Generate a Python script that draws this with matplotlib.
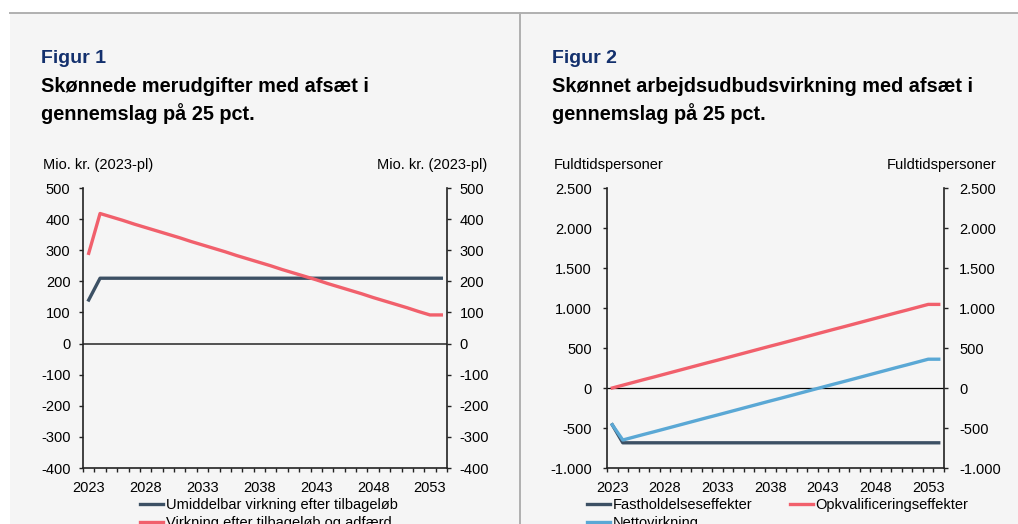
import matplotlib
matplotlib.use("Agg")
import matplotlib.pyplot as plt
from matplotlib.lines import Line2D
from matplotlib.patches import Rectangle
from matplotlib.ticker import FixedLocator, FuncFormatter

plt.rcParams["font.family"] = ["Liberation Sans", "DejaVu Sans"]
plt.rcParams["axes.unicode_minus"] = False

years = list(range(2023, 2055))
year_labels = [str(y) for y in range(2023, 2055, 5)]

# Figur 1: Mio. kr. (2023-pl)
umiddelbar = [140] + [210] * 31
adfaerd = [290, 418, 407, 396, 384, 373, 362, 351, 340, 328, 317, 306, 295, 283,
           272, 261, 250, 238, 227, 216, 205, 193, 182, 171, 160, 148, 137, 126,
           115, 103, 92, 92]

# Figur 2: Fuldtidspersoner
fasthold = [-460] + [-685] * 31
opkval = [0, 35, 70, 105, 139, 174, 209, 244, 279, 314, 348, 383, 418, 453, 488,
          523, 557, 592, 627, 662, 697, 732, 766, 801, 836, 871, 906, 941, 975,
          1010, 1045, 1045]
netto = [-460, -650, -615, -580, -546, -511, -476, -441, -406, -371, -337, -302,
         -267, -232, -197, -162, -128, -93, -58, -23, 12, 47, 81, 116, 151, 186,
         221, 256, 290, 325, 360, 360]

DARK = "#3c5064"
RED = "#f1606c"
LIGHT = "#5aa8d5"
TITLE_BLUE = "#13306d"
BG = "#f5f5f5"
W, H = 1018, 524
FS = 10.5


def fx(px):
    return px / W


def fy(py):
    return 1 - py / H


fig = plt.figure(figsize=(W / 100, H / 100), dpi=100)
fig.patch.set_facecolor("white")
fig.patches.append(Rectangle((fx(10), 0), fx(1008), fy(13), transform=fig.transFigure,
                             facecolor=BG, edgecolor="none", zorder=-10))
fig.lines.append(Line2D([fx(10), 1], [fy(13), fy(13)], transform=fig.transFigure,
                        color="#b0b0b0", lw=1.4, zorder=-5))
fig.lines.append(Line2D([fx(520), fx(520)], [0, fy(13)], transform=fig.transFigure,
                        color="#b0b0b0", lw=1.4, zorder=-5))


def setup_axis(ax, ylim, yticks, fmt, pad):
    ax.set_facecolor("none")
    idx = list(range(len(years)))
    ax.set_xlim(-0.5, len(years) - 0.5)
    ax.set_ylim(*ylim)
    ax.spines["top"].set_visible(False)
    for side in ["left", "right", "bottom"]:
        ax.spines[side].set_color("#222222")
        ax.spines[side].set_linewidth(1.2)
    ax.xaxis.set_major_locator(FixedLocator(idx[::5]))
    ax.set_xticklabels(year_labels)
    ax.xaxis.set_minor_locator(FixedLocator([i - 0.5 for i in range(len(years) + 1)]))
    ax.tick_params(axis="x", which="major", length=0, pad=9, labelsize=FS)
    ax.tick_params(axis="x", which="minor", length=3, width=1, color="#222222")
    ax.set_yticks(yticks)
    ax.yaxis.set_major_formatter(FuncFormatter(fmt))
    ax.tick_params(axis="y", length=3, width=1, color="#222222", labelsize=FS,
                   right=True, labelright=True, pad=pad)


def fmt1(v, pos):
    return f"{int(v)}"


def fmt2(v, pos):
    return f"{int(v):,}".replace(",", ".")


x = list(range(len(years)))

# --- Figur 1 ---
ax1 = fig.add_axes([fx(83), fy(468), fx(364), (468 - 188) / H])
setup_axis(ax1, (-400, 500), range(-400, 501, 100), fmt1, 6)
ax1.axhline(0, color="#444444", lw=1.3, zorder=1)
ax1.plot(x, umiddelbar, color=DARK, lw=2.4, label="Umiddelbar virkning efter tilbageløb", zorder=3)
ax1.plot(x, adfaerd, color=RED, lw=2.4, label="Virkning efter tilbageløb og adfærd", zorder=3)

# --- Figur 2 ---
ax2 = fig.add_axes([fx(607), fy(468), fx(337), (468 - 188) / H])
setup_axis(ax2, (-1000, 2500), range(-1000, 2501, 500), fmt2, 8)
ax2.axhline(0, color="black", lw=0.9, zorder=1)
h_fast, = ax2.plot(x, fasthold, color=DARK, lw=2.4, label="Fastholdelseseffekter", zorder=3)
h_opk, = ax2.plot(x, opkval, color=RED, lw=2.4, label="Opkvalificeringseffekter", zorder=3)
h_net, = ax2.plot(x, netto, color=LIGHT, lw=2.4, label="Nettovirkning", zorder=3)

# titles
for x0, num, l1 in [(41, "Figur 1", "Skønnede merudgifter med afsæt i"),
                    (552, "Figur 2", "Skønnet arbejdsudbudsvirkning med afsæt i")]:
    fig.text(fx(x0), fy(63), num, fontsize=14, fontweight="bold", color=TITLE_BLUE, va="baseline")
    fig.text(fx(x0), fy(92), l1, fontsize=14.3, fontweight="bold", color="black", va="baseline")
    fig.text(fx(x0), fy(120), "gennemslag på 25 pct.", fontsize=14.3, fontweight="bold",
             color="black", va="baseline")

fig.text(fx(43), fy(169), "Mio. kr. (2023-pl)", fontsize=FS, va="baseline")
fig.text(fx(487), fy(169), "Mio. kr. (2023-pl)", fontsize=FS, va="baseline", ha="right")
fig.text(fx(554), fy(169), "Fuldtidspersoner", fontsize=FS, va="baseline")
fig.text(fx(997), fy(169), "Fuldtidspersoner", fontsize=FS, va="baseline", ha="right")

# legends
ax1.legend(loc="upper left", bbox_to_anchor=(fx(140), fy(498)), bbox_transform=fig.transFigure,
           frameon=False, fontsize=FS, handlelength=1.6, handletextpad=0.15,
           labelspacing=0.3, borderpad=0, borderaxespad=0)
ax2.legend(handles=[h_fast, h_net, h_opk], loc="upper left", bbox_to_anchor=(fx(587), fy(498)),
           bbox_transform=fig.transFigure, frameon=False, fontsize=FS, ncol=2,
           handlelength=1.6, handletextpad=0.15, labelspacing=0.3, borderpad=0,
           borderaxespad=0, columnspacing=2.6)

fig.savefig("out.png", dpi=100, facecolor=fig.get_facecolor())
